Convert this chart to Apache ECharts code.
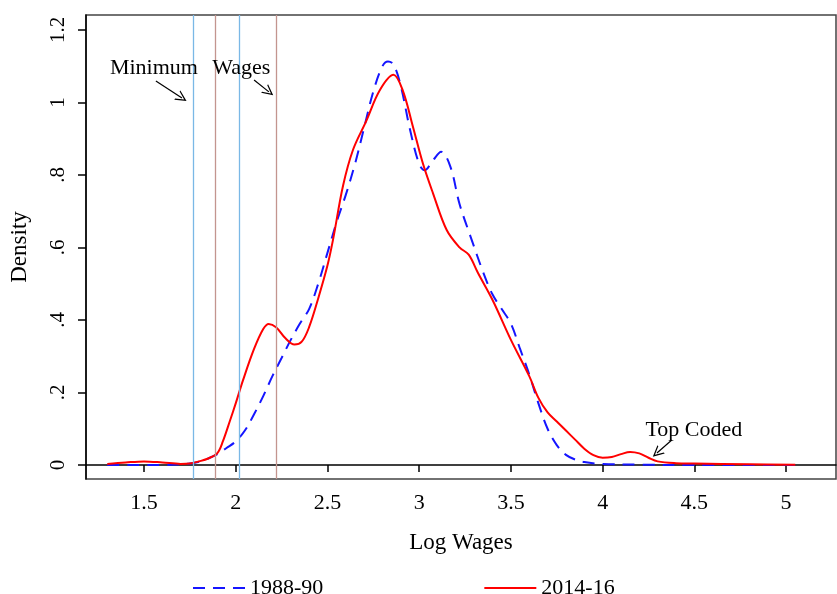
<!DOCTYPE html>
<html>
<head>
<meta charset="utf-8">
<script src="https://cdn.jsdelivr.net/npm/echarts@6/dist/echarts.min.js"></script>
<style>html,body{margin:0;padding:0;background:#fff}#c{width:837px;height:594px}</style>
</head>
<body>
<div id="c"></div>
<script>
// ---- data ----
const seriesNames = ['1988-90', '2014-16'];
const wages1988 = [
  [1.3,0],[1.4,0],[1.5,0],[1.6,0],[1.7,0.002],[1.75,0.004],[1.8,0.009],[1.85,0.018],[1.9,0.03],[1.95,0.047],
  [2.0,0.065],[2.05,0.095],[2.1,0.14],[2.15,0.19],[2.2,0.245],[2.25,0.295],[2.3,0.345],[2.35,0.39],[2.4,0.43],
  [2.45,0.5],[2.5,0.585],[2.55,0.67],[2.6,0.745],[2.65,0.83],[2.7,0.93],[2.75,1.03],[2.8,1.1],[2.83,1.113],
  [2.86,1.105],[2.9,1.045],[2.95,0.925],[3.0,0.83],[3.03,0.813],[3.075,0.84],[3.12,0.864],[3.17,0.823],
  [3.22,0.72],[3.28,0.63],[3.35,0.53],[3.4,0.47],[3.45,0.43],[3.5,0.39],[3.55,0.32],[3.6,0.25],[3.65,0.17],
  [3.7,0.1],[3.75,0.055],[3.8,0.028],[3.85,0.015],[3.9,0.008],[4.0,0.003],[4.2,0.001],[4.5,0],[5.05,0]
];
const wages2014 = [
  [1.3,0.003],[1.4,0.007],[1.5,0.01],[1.6,0.007],[1.7,0.003],[1.75,0.004],[1.8,0.01],[1.85,0.018],[1.9,0.033],
  [1.93,0.065],[1.97,0.124],[2.0,0.17],[2.04,0.234],[2.1,0.32],[2.15,0.375],[2.18,0.389],[2.22,0.38],[2.27,0.35],
  [2.32,0.332],[2.36,0.34],[2.4,0.38],[2.45,0.46],[2.5,0.55],[2.53,0.62],[2.585,0.77],[2.64,0.87],[2.71,0.947],
  [2.786,1.034],[2.86,1.076],[2.91,1.034],[2.966,0.933],[3.02,0.832],[3.075,0.75],[3.15,0.648],[3.22,0.6],
  [3.27,0.58],[3.32,0.53],[3.4,0.455],[3.5,0.345],[3.6,0.245],[3.65,0.185],[3.7,0.145],[3.75,0.12],[3.8,0.095],
  [3.85,0.07],[3.9,0.045],[3.95,0.027],[4.0,0.02],[4.05,0.022],[4.1,0.03],[4.15,0.036],[4.2,0.032],[4.25,0.02],
  [4.3,0.01],[4.4,0.005],[4.5,0.004],[4.8,0.002],[5.05,0.001]
];
const minWageLines = [1.769, 1.891, 2.019, 2.218];
const xTicks = [1.5, 2, 2.5, 3, 3.5, 4, 4.5, 5];
const yTicks = [0, 0.2, 0.4, 0.6, 0.8, 1, 1.2];
const annotations = [
  {text: 'Minimum', x: 1.554, y: 1.095},
  {text: 'Wages', x: 2.03, y: 1.095},
  {text: 'Top Coded', x: 4.497, y: 0.097}
];
const arrows = [
  [[1.565, 1.059], [1.707, 1.012]],
  [[2.10, 1.062], [2.181, 1.029]],
  [[4.377, 0.069], [4.296, 0.033]]
];

// ---- chart ----
const FONT = "'Liberation Serif','Times New Roman',serif";
const lineColors = ['#7ab8e6', '#c3958f', '#7ab8e6', '#c3958f'];
const chevron = 'path://M0,10 L5,0 L10,10 L8.8,10 L5,2.6 L1.2,10 Z';
const chart = echarts.init(document.getElementById('c'), null, {renderer: 'canvas'});
chart.setOption({
  animation: false,
  backgroundColor: '#fff',
  grid: {left: 86, right: 1, top: 15, bottom: 115, show: true, borderColor: '#444', borderWidth: 1.5,
    containLabel: false, outerBoundsMode: 'none'},
  xAxis: {
    type: 'value', min: 1.184, max: 5.272,
    name: 'Log Wages', nameLocation: 'middle', nameGap: 52,
    nameTextStyle: {fontFamily: FONT, fontSize: 23, color: '#000'},
    axisLine: {show: true, lineStyle: {color: '#000', width: 1.5}},
    axisTick: {show: true, length: 7, lineStyle: {color: '#000', width: 1.5}, customValues: xTicks},
    axisLabel: {fontFamily: FONT, fontSize: 22, color: '#000', margin: 13, customValues: xTicks,
      formatter: v => String(v)},
    splitLine: {show: false}
  },
  yAxis: {
    type: 'value', min: -0.0386, max: 1.241,
    name: 'Density', nameLocation: 'middle', nameGap: 55,
    nameTextStyle: {fontFamily: FONT, fontSize: 23, color: '#000'},
    axisLine: {show: true, lineStyle: {color: '#000', width: 1.5}},
    axisTick: {show: true, length: 8, lineStyle: {color: '#000', width: 1.5}, customValues: yTicks},
    axisLabel: {fontFamily: FONT, fontSize: 21, color: '#000', margin: 17, rotate: 90, customValues: yTicks,
      formatter: v => { const r = Math.round(v * 10) / 10; return r === 0 ? '0' : String(r).replace(/^0\./, '.'); }},
    splitLine: {show: false}
  },
  legend: {
    left: 187, top: 572, itemWidth: 52, itemHeight: 14, itemGap: 160,
    itemStyle: {color: 'transparent', borderWidth: 0, opacity: 0},
    textStyle: {fontFamily: FONT, fontSize: 22, color: '#000'},
    data: seriesNames
  },
  series: [
    {
      name: seriesNames[0], type: 'line', data: wages1988, smooth: 0.35, symbol: 'none', z: 3,
      lineStyle: {color: '#1515ff', width: 2, type: [12, 8]}, itemStyle: {color: '#1515ff'}
    },
    {
      name: seriesNames[1], type: 'line', data: wages2014, smooth: 0.35, symbol: 'none', z: 4,
      lineStyle: {color: '#ff0000', width: 2}, itemStyle: {color: '#ff0000'}
    },
    {
      name: 'refs', type: 'line', data: [], z: 1, silent: true,
      markLine: {
        silent: true, symbol: 'none', animation: false,
        label: {show: false},
        data: minWageLines.map((v, i) => ({xAxis: v, lineStyle: {color: lineColors[i], width: 1.3, type: 'solid'}}))
      }
    },
    {
      name: 'arrows', type: 'line', data: [], z: 5, silent: true,
      markLine: {
        silent: true, symbol: ['none', chevron], symbolSize: [11, 11], animation: false,
        label: {show: false},
        lineStyle: {color: '#000', width: 1.2, type: 'solid', opacity: 1},
        data: arrows.map(a => [{coord: a[0]}, {coord: a[1]}])
      }
    },
    {
      name: 'notes', type: 'scatter', z: 6, silent: true, symbolSize: 0,
      itemStyle: {opacity: 1, color: '#000'},
      data: annotations.map(a => ({value: [a.x, a.y], label: {show: true, formatter: a.text}})),
      label: {show: true, position: 'inside', fontFamily: FONT, fontSize: 22, color: '#000', textBorderWidth: 0, opacity: 1}
    }
  ]
});
</script>
</body>
</html>
